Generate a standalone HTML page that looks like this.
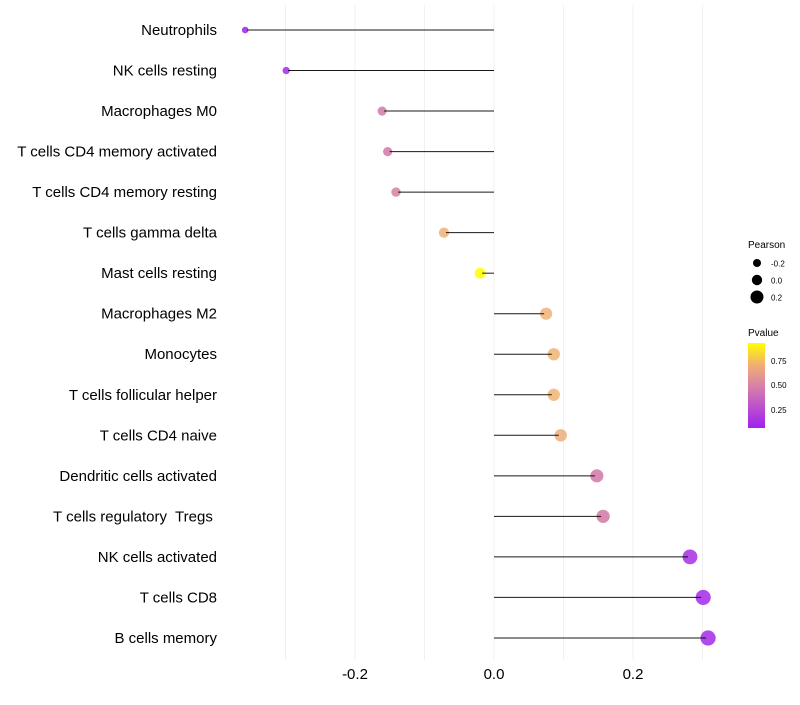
<!DOCTYPE html>
<html><head><meta charset="utf-8"><style>
body{margin:0;background:#fff;font-family:"Liberation Sans",sans-serif}
svg text{font-family:"Liberation Sans",sans-serif;white-space:pre}
</style></head><body>
<svg id="chart" width="800" height="700" xmlns="http://www.w3.org/2000/svg">
<g id="grid"></g>
<g id="dots"></g>
<g id="marks"></g>
<g id="ylab"></g>
<g id="xlab"></g>
<g>
<text x="748" y="248" font-size="10" fill="#000">Pearson</text>
<circle cx="757" cy="263" r="4" fill="#000"/>
<text x="771" y="266.5" font-size="8">-0.2</text>
<circle cx="757" cy="280" r="5.2" fill="#000"/>
<text x="771" y="283.5" font-size="8">0.0</text>
<circle cx="757" cy="297" r="6.5" fill="#000"/>
<text x="771" y="300.5" font-size="8">0.2</text>
</g>
<g>
<text x="748" y="336" font-size="10">Pvalue</text>
<defs><linearGradient id="pg" x1="0" y1="1" x2="0" y2="0">
<stop offset="0" stop-color="#A020F0"/><stop offset="0.5" stop-color="#D882A8"/><stop offset="0.75" stop-color="#F2B070"/><stop offset="1" stop-color="#FFFF00"/></linearGradient></defs>
<rect x="748" y="343" width="17" height="85" fill="url(#pg)"/>
<text x="771" y="364" font-size="8">0.75</text>
<text x="771" y="388" font-size="8">0.50</text>
<text x="771" y="413" font-size="8">0.25</text>
</g>
</svg>
<script>
const categories=["Neutrophils","NK cells resting","Macrophages M0","T cells CD4 memory activated","T cells CD4 memory resting","T cells gamma delta","Mast cells resting","Macrophages M2","Monocytes","T cells follicular helper","T cells CD4 naive","Dendritic cells activated","T cells regulatory  Tregs ","NK cells activated","T cells CD8","B cells memory"];
const pearson=[-0.358,-0.299,-0.161,-0.153,-0.141,-0.072,-0.020,0.075,0.086,0.086,0.096,0.148,0.157,0.282,0.301,0.308];
const pvalue=[0.06,0.1,0.42,0.42,0.45,0.72,0.95,0.72,0.73,0.73,0.7,0.42,0.42,0.12,0.1,0.1];
const xTicks=[-0.2,0,0.2];
const xTickLabels=["-0.2","0.0","0.2"];
const gridVals=[-0.3,-0.2,-0.1,0,0.1,0.2,0.3];
const NS="http://www.w3.org/2000/svg";
const xs=v=>494+v*695;
const ys=i=>30+i*40.53;
const rs=v=>Math.max(1.8,5.6+6.5*v);
function lerp(a,b,t){return a.map((c,i)=>Math.round(c+(b[i]-c)*t));}
const stops=[[0.066,[160,32,240]],[0.45,[214,128,160]],[0.75,[242,184,112]],[0.934,[255,255,0]]];
function col(p){if(p<=stops[0][0])return `rgb(${stops[0][1]})`;for(let i=1;i<stops.length;i++){if(p<=stops[i][0]){const t=(p-stops[i-1][0])/(stops[i][0]-stops[i-1][0]);return `rgb(${lerp(stops[i-1][1],stops[i][1],t)})`;}}return `rgb(${stops[3][1]})`;}
function mk(tag,attrs,parent){const e=document.createElementNS(NS,tag);for(const k in attrs)e.setAttribute(k,attrs[k]);parent.appendChild(e);return e;}
const grid=document.getElementById('grid'),marks=document.getElementById('marks'),dots=document.getElementById('dots'),yl=document.getElementById('ylab'),xl=document.getElementById('xlab');
gridVals.forEach(v=>{const l=mk('line',{x1:xs(v),x2:xs(v),y1:5,y2:660,stroke:'#f0f0f0','stroke-width':1},grid);

});
categories.forEach((c,i)=>{
const y=ys(i);
const dot=mk('circle',{cx:xs(pearson[i]),cy:y,r:rs(pearson[i]),fill:col(pvalue[i]),'fill-opacity':0.85},dots);


const seg=mk('line',{x1:xs(0),x2:xs(pearson[i])+(pearson[i]<0?2:-2),y1:y,y2:y,stroke:'#000','stroke-width':1,'stroke-opacity':0.9},marks);


const t=mk('text',{x:217,y:y+5,'font-size':15,'text-anchor':'end',fill:'#000'},yl);
t.textContent=c;


});
xTicks.forEach((v,i)=>{const t=mk('text',{x:xs(v),y:679,'font-size':15,'text-anchor':'middle',fill:'#000'},xl);
t.textContent=xTickLabels[i];

});
</script>
</body></html>
